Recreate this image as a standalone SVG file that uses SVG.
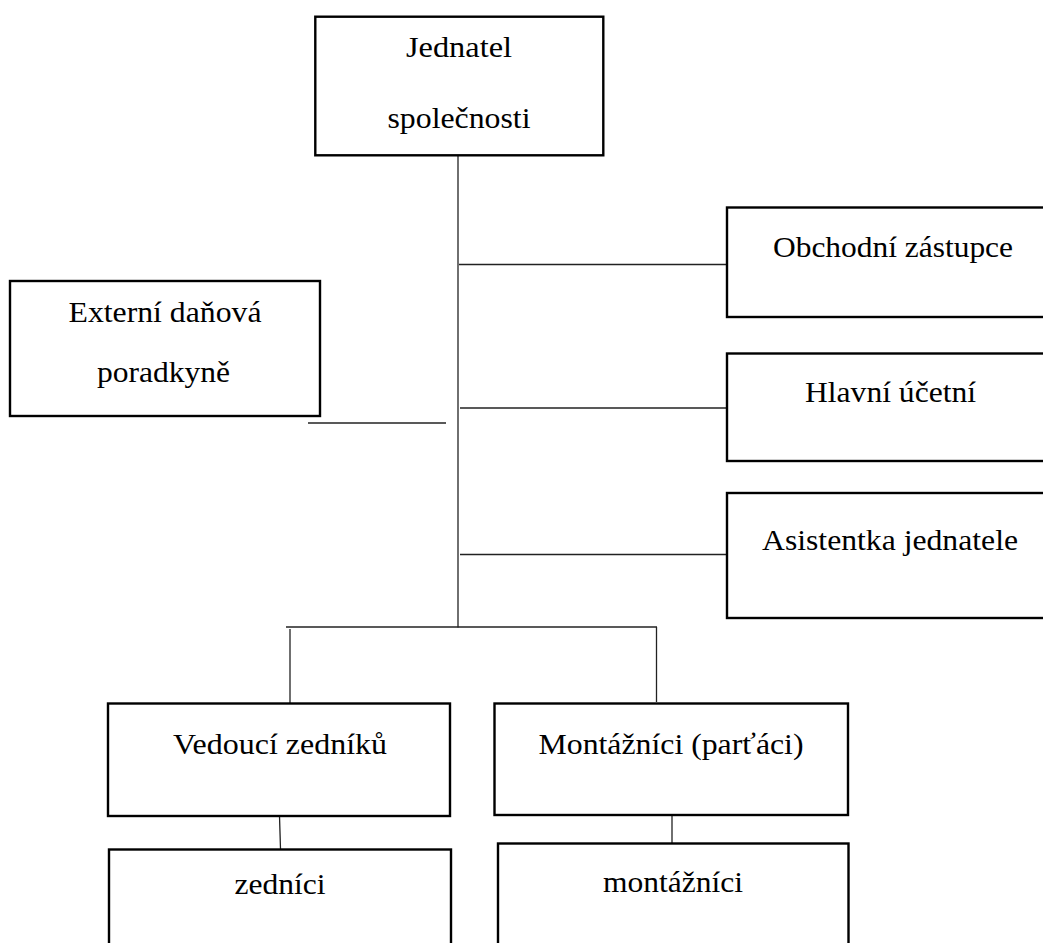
<svg xmlns="http://www.w3.org/2000/svg" width="1043" height="943" viewBox="0 0 1043 943">
<style>
.box{fill:#fff;stroke:#000;stroke-width:2.4}
.lbl{font-family:"Liberation Serif","Times New Roman",serif;font-size:30px;fill:#000;text-anchor:middle}
.con line{stroke:#222;stroke-width:1.3;fill:none}
</style>
<rect x="0" y="0" width="1043" height="943" fill="#fff"/>
<g id="connectors" class="con">
<line x1="458" y1="156" x2="458" y2="627.5"/>
<line x1="459" y1="264.5" x2="726" y2="264.5"/>
<line x1="460" y1="408" x2="726" y2="408"/>
<line x1="460" y1="554.5" x2="726" y2="554.5"/>
<line x1="308" y1="423" x2="446" y2="423"/>
<line x1="286" y1="627" x2="657" y2="627"/>
<line x1="290" y1="629" x2="290" y2="703"/>
<line x1="656.5" y1="627" x2="656.5" y2="702"/>
<line x1="279.5" y1="816" x2="280.5" y2="849"/>
<line x1="672" y1="815" x2="672" y2="843"/>
</g>
<g id="jednatel">
<rect class="box" x="315.3" y="16.7" width="288" height="138.6"/>
<text class="lbl" x="459" y="57" textLength="106" lengthAdjust="spacingAndGlyphs">Jednatel</text>
<text class="lbl" x="459" y="128" textLength="143" lengthAdjust="spacingAndGlyphs">společnosti</text>
</g>
<g id="externi">
<rect class="box" x="10" y="281" width="310" height="135"/>
<text class="lbl" x="165" y="322" textLength="193" lengthAdjust="spacingAndGlyphs">Externí daňová</text>
<text class="lbl" x="163.5" y="382" textLength="133" lengthAdjust="spacingAndGlyphs">poradkyně</text>
</g>
<g id="obchodni">
<rect class="box" x="727" y="207.5" width="340" height="109.5"/>
<text class="lbl" x="893" y="257" textLength="240" lengthAdjust="spacingAndGlyphs">Obchodní zástupce</text>
</g>
<g id="hlavni">
<rect class="box" x="727" y="353.5" width="340" height="107.5"/>
<text class="lbl" x="890.5" y="402" textLength="171" lengthAdjust="spacingAndGlyphs">Hlavní účetní</text>
</g>
<g id="asistentka">
<rect class="box" x="727" y="493" width="340" height="125"/>
<text class="lbl" x="890" y="550" textLength="256" lengthAdjust="spacingAndGlyphs">Asistentka jednatele</text>
</g>
<g id="vedouci">
<rect class="box" x="108" y="703.5" width="342" height="112.5"/>
<text class="lbl" x="280" y="754" textLength="214" lengthAdjust="spacingAndGlyphs">Vedoucí zedníků</text>
</g>
<g id="montaznici-partaci">
<rect class="box" x="494.5" y="703.5" width="353.5" height="111.5"/>
<text class="lbl" x="671" y="753.5" textLength="265" lengthAdjust="spacingAndGlyphs">Montážníci (parťáci)</text>
</g>
<g id="zednici">
<rect class="box" x="109" y="849.5" width="342" height="120"/>
<text class="lbl" x="280" y="894" textLength="91" lengthAdjust="spacingAndGlyphs">zedníci</text>
</g>
<g id="montaznici">
<rect class="box" x="498" y="843.5" width="350.5" height="120"/>
<text class="lbl" x="673" y="892" textLength="140" lengthAdjust="spacingAndGlyphs">montážníci</text>
</g>
</svg>
